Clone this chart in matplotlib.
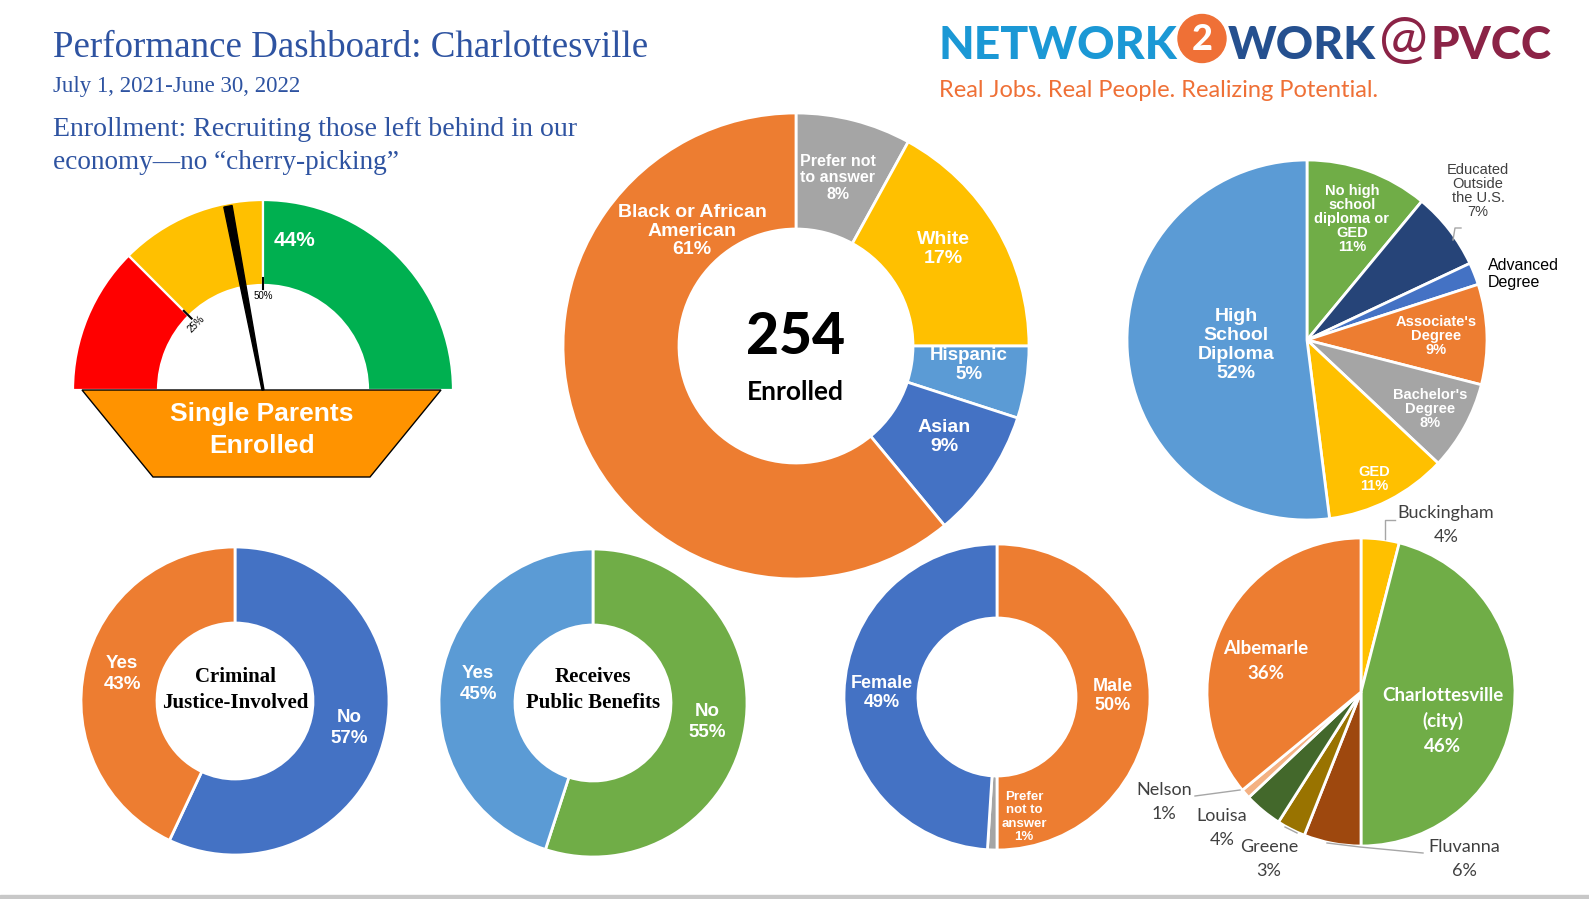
import matplotlib
matplotlib.use('Agg')
import matplotlib.pyplot as plt
from matplotlib.patches import Polygon, Circle, Rectangle
import numpy as np

# ---------------- data ----------------
race_cats = ['Prefer not\nto answer', 'White', 'Hispanic', 'Asian', 'Black or African\nAmerican']
race_pct = [8, 17, 5, 9, 61]
race_total = 254

edu_cats = ['No high\nschool\ndiploma or\nGED', 'Educated\nOutside\nthe U.S.', 'Advanced\nDegree',
            "Associate's\nDegree", "Bachelor's\nDegree", 'GED', 'High\nSchool\nDiploma']
edu_pct = [11, 7, 2, 9, 8, 11, 52]

county_cats = ['Buckingham', 'Charlottesville\n(city)', 'Fluvanna', 'Greene', 'Louisa', 'Nelson', 'Albemarle']
county_pct = [4, 46, 6, 3, 4, 1, 36]

gender_cats = ['Male', 'Prefer\nnot to\nanswer', 'Female']
gender_pct = [50, 1, 49]

cj_cats = ['No', 'Yes']
cj_pct = [57, 43]

pb_cats = ['No', 'Yes']
pb_pct = [55, 45]

gauge_bands = [25, 25, 50]
gauge_ticks = [25, 50]
single_parents_pct = 44

# ---------------- figure ----------------
W, H = 1589, 899
fig = plt.figure(figsize=(W / 100, H / 100), dpi=100)
fig.patch.set_facecolor('white')
ax = fig.add_axes([0, 0, 1, 1])
ax.set_axis_off()
renderer = fig.canvas.get_renderer()

SANS = ['Liberation Sans', 'DejaVu Sans']
SERIF = ['Liberation Serif', 'DejaVu Serif']
CAL = ['Lato', 'DejaVu Sans']


def P(x, y):
    return (x, H - y)


def donut(vals, cols, cx, cy, r, rin=None, start=90, lw=1.6):
    wp = dict(edgecolor='white', linewidth=lw)
    if rin is not None:
        wp['width'] = r - rin
    wedges, _ = ax.pie(vals, colors=cols, startangle=start, counterclock=False,
                       radius=r, center=P(cx, cy), wedgeprops=wp, frame=True)
    return wedges


def label(x, y, s, size, color='white', weight='bold', family=SANS, ls=1.1,
          ha='center', va='center', **kw):
    return ax.text(x, H - y, s, fontsize=size, color=color, fontweight=weight,
                   family=family, linespacing=ls, ha=ha, va=va, **kw)


def fit(t, width):
    bb = t.get_window_extent(renderer)
    t.set_fontsize(t.get_fontsize() * width / bb.width)


# ---------------- title block ----------------
TITLE_C = '#2E53A1'
t = label(53, 57, 'Performance Dashboard: Charlottesville', 26, TITLE_C, 'normal', SERIF,
          ha='left', va='baseline'); fit(t, 596)
t = label(53, 92, 'July 1, 2021-June 30, 2022', 16, TITLE_C, 'normal', SERIF,
          ha='left', va='baseline'); fit(t, 248)
t = label(53, 136, 'Enrollment: Recruiting those left behind in our', 20, TITLE_C, 'normal', SERIF,
          ha='left', va='baseline'); fit(t, 524)
t = label(53, 169, 'economy\u2014no \u201ccherry-picking\u201d', 20, TITLE_C, 'normal', SERIF,
          ha='left', va='baseline'); fit(t, 345)

# ---------------- logo ----------------
t = label(939, 59, 'NETWORK', 36, '#1B98D5', 'black', CAL, ha='left', va='baseline'); fit(t, 239)
ax.add_patch(Circle(P(1202, 38.5), 24, color='#EF7036', zorder=3))
label(1202, 39, '2', 26, 'white', 'black', CAL, zorder=4)
t = label(1228, 59, 'WORK', 36, '#25508F', 'black', CAL, ha='left', va='baseline'); fit(t, 148)
t = label(1379, 57, '@', 36, '#8B2346', 'normal', CAL, ha='left', va='baseline'); fit(t, 49)
t = label(1430, 59, 'PVCC', 36, '#8B2346', 'black', CAL, ha='left', va='baseline'); fit(t, 121)
t = label(939, 97, 'Real Jobs. Real People. Realizing Potential.', 18, '#EF7036', 'normal', CAL,
          ha='left', va='baseline'); fit(t, 440)

# ---------------- gauge ----------------
gcx, gcy, gr, grin = 263, 390, 190, 105
gw = donut(gauge_bands + [sum(gauge_bands)], ['#FF0000', '#FFC000', '#00B050', 'white'],
           gcx, gcy, gr, grin, start=180, lw=1.6)
gw[-1].set_visible(False)
for tk in gauge_ticks:
    th = np.radians(180 - 1.8 * tk)
    ax.plot([gcx + 101 * np.cos(th), gcx + 112 * np.cos(th)],
            [H - gcy + 101 * np.sin(th), H - gcy + 112 * np.sin(th)], color='black', lw=1.5, zorder=4)
    ax.text(gcx + 94 * np.cos(th), H - gcy + 94 * np.sin(th), f'{tk}%', fontsize=7,
            family=SANS, ha='center', va='center', rotation=90 - 1.8 * tk, zorder=4)
# needle
th = np.radians(180 - 1.8 * single_parents_pct)
u = np.array([np.cos(th), np.sin(th)])
n = np.array([-u[1], u[0]])
c0 = np.array([gcx, H - gcy])
tip = c0 + 187 * u
needle = [c0 + 1.0 * n, tip + 4.2 * n, tip - 4.2 * n, c0 - 1.0 * n]
ax.add_patch(Polygon(needle, closed=True, color='black', zorder=5))
label(295, 241, f'{single_parents_pct}%', 15, 'white', 'bold', SANS, zorder=5)
# base trapezoid
ax.add_patch(Polygon([P(82, 390), P(441, 390), P(370, 477), P(153, 477)], closed=True,
                     facecolor='#FF9300', edgecolor='black', lw=1.0, zorder=4))
label(262, 430, 'Single Parents\nEnrolled', 19, 'white', 'bold', SANS, ls=1.38, zorder=6)

# ---------------- race donut ----------------
race_cols = ['#A5A5A5', '#FFC000', '#5B9BD5', '#4472C4', '#ED7D31']
donut(race_pct, race_cols, 796, 346, 233, 117, lw=2)
race_pos = [(838, 178), (943, 249), (969, 365), (944, 437), (692, 231)]
race_size = [11.5, 14, 13.5, 14, 14]
for c, p, (x, y), s in zip(race_cats, race_pct, race_pos, race_size):
    label(x, y, f'{c}\n{p}%', s, ls=1.11)
label(796, 338, str(race_total), 41, 'black', 'black', CAL)
label(795, 392, 'Enrolled', 19, 'black', 'bold', CAL)

# ---------------- education pie ----------------
edu_cols = ['#70AD47', '#264478', '#4472C4', '#ED7D31', '#A5A5A5', '#FFC000', '#5B9BD5']
donut(edu_pct, edu_cols, 1307, 340, 180, lw=2)
edu_pos = [(1352, 219), (1478, 191), (1488, 274), (1436, 336), (1430, 409), (1374, 479), (1236, 345)]
for i, (c, p, (x, y)) in enumerate(zip(edu_cats, edu_pct, edu_pos)):
    if i == 1:
        label(x, y, f'{c}\n{p}%', 10.5, '#404040', 'normal', SANS, ls=1.03)
    elif i == 2:
        label(x, y, c, 11.5, 'black', 'normal', SANS, ls=1.12, ha='left')
    elif i == 6:
        label(x, y, f'{c}\n{p}%', 14, ls=1.13)
    else:
        label(x, y, f'{c}\n{p}%', 10.5, ls=1.01)
ax.plot([1453, 1455, 1461], [H - 240, H - 228, H - 228], color='#A6A6A6', lw=1)

# ---------------- county pie ----------------
county_cols = ['#FFC000', '#70AD47', '#9E480E', '#997300', '#43682B', '#F4B183', '#ED7D31']
donut(county_pct, county_cols, 1361, 692, 154, lw=2)
county_pos = [(1446, 525), (1443, 721), (1464, 859), (1269, 859), (1222, 828), (1164, 802), (1266, 661)]
for i, (c, p, (x, y)) in enumerate(zip(county_cats, county_pct, county_pos)):
    if i in (1, 6):
        label(x, y, f'{c}\n{p}%', 13.5, 'white', 'bold', CAL, ls=1.55)
    else:
        label(x, y, f'{c}\n{p}%', 13, '#404040', 'normal', CAL, ls=1.55)
for xs, ys in [([1385, 1385, 1395], [539, 520, 520]),
               ([1240, 1195], [790, 796]),
               ([1285, 1297], [827, 833]),
               ([1327, 1360, 1423], [843, 847, 853])]:
    ax.plot(xs, [H - v for v in ys], color='#A6A6A6', lw=1)

# ---------------- gender donut ----------------
gender_cols = ['#ED7D31', '#A5A5A5', '#4472C4']
donut(gender_pct, gender_cols, 997, 697, 153, 79, lw=2)
gender_pos = [(1113, 696), (1024, 817), (882, 693)]
for i, (c, p, (x, y)) in enumerate(zip(gender_cats, gender_pct, gender_pos)):
    if i == 1:
        label(x, y, f'{c}\n{p}%', 9.5, ls=1.17)
    else:
        label(x, y, f'{c}\n{p}%', 13, ls=1.19)

# ---------------- criminal justice donut ----------------
donut(cj_pct, ['#4472C4', '#ED7D31'], 235, 701, 154, 78, lw=2)
for c, p, (x, y) in zip(cj_cats, cj_pct, [(349, 728), (122, 674)]):
    label(x, y, f'{c}\n{p}%', 13.5, ls=1.33)
label(235, 690, 'Criminal\nJustice-Involved', 15, 'black', 'bold', SERIF, ls=1.4)

# ---------------- public benefits donut ----------------
donut(pb_pct, ['#70AD47', '#5B9BD5'], 593, 703, 154, 78, lw=2)
for c, p, (x, y) in zip(pb_cats, pb_pct, [(707, 722), (478, 684)]):
    label(x, y, f'{c}\n{p}%', 13.5, ls=1.33)
label(593, 690, 'Receives\nPublic Benefits', 15, 'black', 'bold', SERIF, ls=1.4)

# bottom bar
ax.add_patch(Rectangle((0, 0), W, 4, color='#C8C8C8', zorder=1))

ax.set_xlim(0, W)
ax.set_ylim(0, H)
ax.set_aspect('auto')
fig.savefig('out.png', dpi=100, facecolor='white')
